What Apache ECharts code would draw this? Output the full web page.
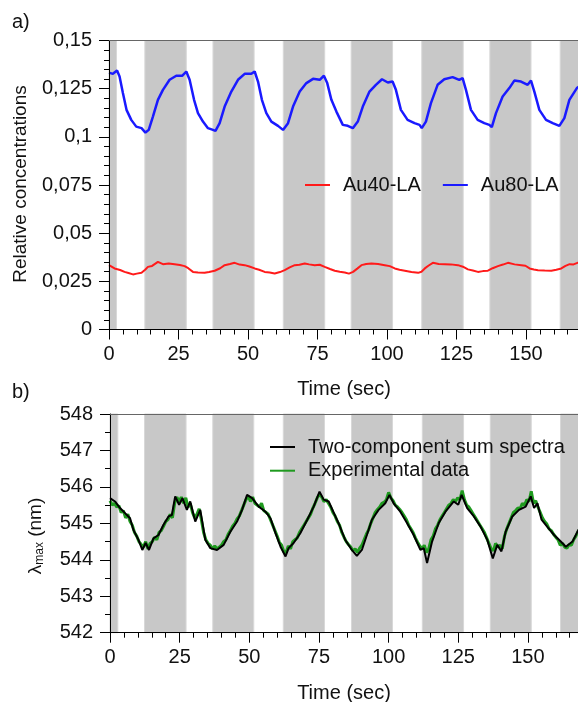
<!DOCTYPE html>
<html><head><meta charset="utf-8">
<script src="https://cdn.jsdelivr.net/npm/echarts@6/dist/echarts.min.js"></script>
<style>html,body{margin:0;padding:0;background:#fff}#c{width:578px;height:702px}</style>
</head><body><div id="c"></div>
<script>
// ---------- DATA ----------
const xTickValues = [0, 25, 50, 75, 100, 125, 150, 175];
const xTickLabels = ['0', '25', '50', '75', '100', '125', '150', '175'];
const yTickValuesA = [0, 0.025, 0.05, 0.075, 0.1, 0.125, 0.15];
const yTickLabelsA = ['0', '0,025', '0,05', '0,075', '0,1', '0,125', '0,15'];
const yTickValuesB = [542, 543, 544, 545, 546, 547, 548];
const yTickLabelsB = ['542', '543', '544', '545', '546', '547', '548'];

// grey (illuminated) intervals, seconds
const bandStartA = [0, 12.9, 37.4, 62.7, 87.1, 112.5, 137.0, 162.3];
const bandEndA   = [2.7, 27.8, 52.2, 77.6, 102.0, 127.4, 151.8, 180];
const bandStartB = [0, 12.4, 36.9, 62.2, 86.7, 112.1, 136.5, 161.7];
const bandEndB   = [2.8, 27.3, 51.6, 77.0, 101.4, 126.9, 151.2, 180];

// panel a) Au80-LA
const au80T = [0,1.4,2.9,3.8,5.0,6.3,8.0,9.8,11.7,13.1,14.3,15.8,17.6,19.4,21.8,24.2,26.3,27.8,29,30.6,32,33.8,35.6,37.4,38.3,39.8,41.6,44,46.4,48.8,51.2,52.4,53.6,55,56.6,58.4,60.8,62.6,64.4,66.2,68.6,71,73.4,75.8,77.3,78.5,80,81.8,84.1,85.9,87.7,89.5,91.3,93.7,96,98.2,100.3,102,103.2,105,107.4,109.9,111.7,112.5,114,115.8,118.2,120.6,123.6,126,127.2,128.4,130.2,132.6,135,136.8,137.7,139.2,141.6,144,145.8,148.2,150.6,151.8,153,154.8,157.2,159.6,162,163.8,165.6,168.3,170];
const au80V = [0.1333,0.1327,0.1344,0.1313,0.1227,0.1140,0.1088,0.1053,0.1045,0.1022,0.1036,0.1105,0.1192,0.1244,0.1296,0.1317,0.1317,0.1339,0.1296,0.1192,0.1123,0.1079,0.1045,0.1036,0.1031,0.1071,0.1157,0.1235,0.1296,0.1327,0.1327,0.1339,0.1287,0.1192,0.1123,0.1079,0.1057,0.1036,0.1071,0.1157,0.1235,0.1279,0.1301,0.1296,0.1317,0.1279,0.1192,0.1131,0.1062,0.1057,0.1045,0.1079,0.1157,0.1235,0.1270,0.1299,0.1282,0.1287,0.1244,0.1140,0.1088,0.1071,0.1062,0.1045,0.1079,0.1175,0.1270,0.1299,0.1310,0.1296,0.1305,0.1244,0.1140,0.1088,0.1071,0.1062,0.1050,0.1123,0.1209,0.1253,0.1292,0.1287,0.1270,0.1292,0.1235,0.1140,0.1088,0.1071,0.1057,0.1097,0.1192,0.1253,0.1270];

// panel a) Au40-LA
const au40T = [0,2,4,5.6,7,8.6,10,11.7,13,14,15.5,17.6,19.4,21.5,23.6,25.5,27.2,28.5,30.2,32,34.4,36,38,40,41.6,43.5,45.2,47,48.8,50.5,52.4,54,56,57.8,59.6,61.5,63.2,65,66.8,68.5,70.4,72,74,75.8,77.6,79.5,81.2,83,84.8,86.3,87.8,89.3,90.8,92.5,94.4,96.8,99.2,101,102.8,104.5,106.4,108.8,111.2,112.4,113.6,115,116.5,118.6,120.8,123,125.5,127.3,129.1,130.9,132.7,134.5,136.3,138,139.9,141.7,143.5,145.9,148.3,149.8,151.3,152.8,154.3,156.7,159.1,160.9,162.7,164.2,165.7,167.1,168.5,170];
const au40V = [0.0334,0.0317,0.0309,0.0299,0.0293,0.0286,0.0290,0.0294,0.0310,0.0325,0.0330,0.0351,0.0339,0.0343,0.0339,0.0335,0.0329,0.0318,0.0299,0.0296,0.0294,0.0298,0.0305,0.0318,0.0334,0.0340,0.0346,0.0337,0.0334,0.0327,0.0317,0.0310,0.0299,0.0296,0.0291,0.0298,0.0308,0.0322,0.0334,0.0336,0.0343,0.0338,0.0334,0.0336,0.0325,0.0314,0.0305,0.0300,0.0296,0.0290,0.0299,0.0316,0.0334,0.0340,0.0343,0.0340,0.0334,0.0329,0.0317,0.0310,0.0305,0.0298,0.0294,0.0300,0.0317,0.0332,0.0346,0.0340,0.0339,0.0338,0.0334,0.0326,0.0312,0.0306,0.0299,0.0303,0.0305,0.0318,0.0329,0.0337,0.0346,0.0338,0.0334,0.0331,0.0317,0.0311,0.0308,0.0306,0.0305,0.0310,0.0317,0.0330,0.0339,0.0338,0.0346,0.0345];

// panel b) two-component sum spectra
const sumT = [0,1.8,3.6,5.4,7.2,8.4,10.2,11.6,12.8,14,15.6,17.4,19.2,21,22.2,23.4,24.8,26,27.6,28.8,30.6,32.4,34.2,36,38.4,40.8,43.2,45.6,47.4,49.2,51,53.4,55.8,57.6,59.4,61.2,63,64.1,65.9,68.3,70.8,73.1,75.2,76.7,78.5,80.9,82,84.4,86.8,88.6,90.4,92.2,94,96.4,98.8,100.3,101.8,104.2,106.6,109,111.4,112.6,113.8,115.6,118,120.4,123.4,125,126.2,128.2,130.6,133,135.4,137.4,139,140.5,142,144.4,146.8,149.2,151,152.2,153.4,154.9,156.9,159.4,161.8,163.6,166,168.1,170];
const sumV = [545.69,545.60,545.42,545.28,545.14,544.82,544.55,544.27,544.46,544.27,544.59,544.68,544.96,545.19,545.23,545.74,545.51,545.69,545.37,545.60,545.05,545.37,544.55,544.32,544.27,544.41,544.77,545.05,545.37,545.78,545.69,545.46,545.32,545.14,544.73,544.36,544.09,544.32,544.46,544.73,545.10,545.46,545.87,545.65,545.60,545.19,545.01,544.55,544.27,544.11,544.27,544.68,545.10,545.37,545.55,545.78,545.55,545.32,545.01,544.68,544.27,544.32,543.91,544.50,545.01,545.32,545.60,545.51,545.78,545.42,545.19,544.91,544.55,544.04,544.41,544.23,544.77,545.19,545.37,545.46,545.74,545.42,545.55,545.10,544.91,544.68,544.50,544.36,544.50,544.82,544.90];

// panel b) experimental data
const expT = [0,0.8,1.6,2.4,3.2,4.0,4.8,5.6,6.4,7.2,8.0,8.8,9.6,10.4,11.2,12.0,12.8,13.6,14.4,15.2,16.0,16.8,17.6,18.4,19.2,20.0,20.8,21.6,22.4,23.2,24.0,24.8,25.6,26.4,27.2,28.0,28.8,29.6,30.4,31.2,32.0,32.8,33.6,34.4,35.2,36.0,36.8,37.6,38.4,39.2,40.0,40.8,41.6,42.4,43.2,44.0,44.8,45.6,46.4,47.2,48.0,48.8,49.6,50.4,51.2,52.0,52.8,53.6,54.4,55.2,56.0,56.8,57.6,58.4,59.2,60.0,60.8,61.6,62.4,63.2,64.0,64.8,65.6,66.4,67.2,68.0,68.8,69.6,70.4,71.2,72.0,72.8,73.6,74.4,75.2,76.0,76.8,77.6,78.4,79.2,80.0,80.8,81.6,82.4,83.2,84.0,84.8,85.6,86.4,87.2,88.0,88.8,89.6,90.4,91.2,92.0,92.8,93.6,94.4,95.2,96.0,96.8,97.6,98.4,99.2,100.0,100.8,101.6,102.4,103.2,104.0,104.8,105.6,106.4,107.2,108.0,108.8,109.6,110.4,111.2,112.0,112.8,113.6,114.4,115.2,116.0,116.8,117.6,118.4,119.2,120.0,120.8,121.6,122.4,123.2,124.0,124.8,125.6,126.4,127.2,128.0,128.8,129.6,130.4,131.2,132.0,132.8,133.6,134.4,135.2,136.0,136.8,137.6,138.4,139.2,140.0,140.8,141.6,142.4,143.2,144.0,144.8,145.6,146.4,147.2,148.0,148.8,149.6,150.4,151.2,152.0,152.8,153.6,154.4,155.2,156.0,156.8,157.6,158.4,159.2,160.0,160.8,161.6,162.4,163.2,164.0,164.8,165.6,166.4,167.2,168.0,168.8,170];
const expV = [545.62,545.50,545.55,545.45,545.48,545.30,545.35,545.15,545.25,545.05,544.95,544.75,544.65,544.50,544.42,544.35,544.50,544.30,544.45,544.50,544.62,544.55,544.75,544.80,544.92,545.05,545.10,545.25,545.15,545.55,545.72,545.60,545.72,545.55,545.70,545.45,545.55,545.30,545.15,545.25,545.40,545.10,544.75,544.55,544.45,544.40,544.30,544.38,544.30,544.35,544.40,544.50,544.55,544.70,544.80,544.92,545.00,545.12,545.20,545.35,545.50,545.65,545.75,545.60,545.72,545.55,545.50,545.45,545.55,545.35,545.30,545.25,545.10,544.95,544.80,544.65,544.48,544.40,544.22,544.20,544.38,544.30,544.50,544.55,544.60,544.75,544.85,544.95,545.05,545.15,545.25,545.42,545.55,545.70,545.80,545.72,545.60,545.65,545.55,545.45,545.30,545.20,545.05,544.95,544.75,544.62,544.50,544.42,544.35,544.25,544.30,544.20,544.32,544.40,544.55,544.70,544.82,545.00,545.15,545.30,545.38,545.45,545.55,545.58,545.65,545.85,545.70,545.62,545.50,545.45,545.38,545.30,545.20,545.10,544.95,544.85,544.75,544.60,544.48,544.38,544.30,544.40,544.20,544.30,544.55,544.65,544.85,544.95,545.10,545.20,545.30,545.40,545.50,545.55,545.65,545.60,545.70,545.65,545.90,545.65,545.50,545.45,545.35,545.25,545.15,545.05,544.95,544.85,544.75,544.60,544.45,544.30,544.25,544.45,544.35,544.40,544.30,544.65,544.85,545.00,545.15,545.30,545.35,545.42,545.40,545.55,545.50,545.65,545.60,545.88,545.55,545.62,545.45,545.30,545.15,545.05,544.98,544.85,544.80,544.70,544.62,544.55,544.40,544.45,544.35,544.32,544.42,544.40,544.55,544.65,544.78,544.85,544.90];

// ---------- CHART ----------
const FONT = "'Liberation Sans', Arial, Helvetica, sans-serif";
const TXT = '#111';
const zip = (a, b) => a.map((v, i) => [v, b[i]]);
const LINE_ICON = 'path://M0,0L25,0L25,2L0,2Z';

function bandSeries(xi, yi, starts, ends, ymin, ymax) {
  return {
    type: 'custom', xAxisIndex: xi, yAxisIndex: yi, z: 1, silent: true,
    data: starts.map((s, i) => [s, ends[i]]),
    encode: { x: [0, 1] },
    renderItem: function (params, api) {
      const p1 = api.coord([api.value(0), ymax]);
      const p2 = api.coord([api.value(1), ymin]);
      return { type: 'rect',
        shape: { x: p1[0], y: p1[1], width: p2[0] - p1[0], height: p2[1] - p1[1] },
        style: { fill: '#c8c8c8', stroke: '#d8d8d8', lineWidth: 1 } };
    }
  };
}

function xAxisBottom(gi) {
  return {
    gridIndex: gi, type: 'value', min: 0, max: 180, interval: 25, z: 10,
    axisLine: { show: true, onZero: false, lineStyle: { color: '#000', width: 1 } },
    axisTick: { show: true, length: 10, lineStyle: { color: '#000' } },
    minorTick: { show: true, splitNumber: 5, length: 5, lineStyle: { color: '#000' } },
    splitLine: { show: false },
    axisLabel: { margin: 15, fontSize: 20, color: TXT, fontFamily: FONT, hideOverlap: false,
      formatter: v => { const i = xTickValues.indexOf(v); return i >= 0 ? xTickLabels[i] : ''; } }
  };
}
function xAxisTop(gi) {
  return {
    gridIndex: gi, type: 'value', min: 0, max: 180, position: 'top', z: 10,
    axisLine: { show: true, onZero: false, lineStyle: { color: '#666', width: 1 } },
    axisTick: { show: false }, axisLabel: { show: false }, splitLine: { show: false }
  };
}
function yAxis(gi, min, max, interval, minorSplit, vals, labels) {
  return {
    gridIndex: gi, type: 'value', min: min, max: max, interval: interval, z: 10,
    axisLine: { show: true, onZero: false, lineStyle: { color: '#000', width: 1 } },
    axisTick: { show: true, length: 10, lineStyle: { color: '#000' } },
    minorTick: { show: true, splitNumber: minorSplit, length: 5, lineStyle: { color: '#000' } },
    splitLine: { show: false },
    axisLabel: { margin: 17, fontSize: 20, color: TXT, fontFamily: FONT,
      formatter: v => { let best = 0; vals.forEach((t, i) => { if (Math.abs(t - v) < Math.abs(vals[best] - v)) best = i; }); return labels[best]; } }
  };
}

const chart = echarts.init(document.getElementById('c'), null, { renderer: 'canvas' });
chart.setOption({
  animation: false,
  backgroundColor: '#fff',
  grid: [
    { left: 109, top: 40.5, width: 500.4, height: 289, containLabel: false, outerBoundsMode: 'none' },
    { left: 110, top: 414, width: 501.5, height: 218.7, containLabel: false, outerBoundsMode: 'none' }
  ],
  xAxis: [xAxisBottom(0), xAxisTop(0), xAxisBottom(1), xAxisTop(1)],
  yAxis: [
    yAxis(0, 0, 0.15, 0.025, 5, yTickValuesA, yTickLabelsA),
    yAxis(1, 542, 548, 1, 2, yTickValuesB, yTickLabelsB)
  ],
  legend: [
    { data: ['Au40-LA', 'Au80-LA'], left: 305, top: 175, padding: 0, orient: 'horizontal', icon: LINE_ICON,
      itemWidth: 25, itemHeight: 2, itemGap: 22, itemStyle: { borderWidth: 0 },
      textStyle: { fontSize: 20, color: TXT, fontFamily: FONT, padding: [0, 0, 0, 8] } },
    { data: ['Two-component sum spectra', 'Experimental data'], left: 270, top: 437, padding: 0, orient: 'vertical', icon: LINE_ICON,
      itemWidth: 25, itemHeight: 2, itemGap: 3.7, itemStyle: { borderWidth: 0 },
      textStyle: { fontSize: 20, color: TXT, fontFamily: FONT, padding: [0, 0, 0, 8] } }
  ],
  graphic: [
    { type: 'text', left: 12, top: 12, style: { text: 'a)', fontSize: 20, fill: TXT, fontFamily: FONT } },
    { type: 'text', left: 12, top: 382, style: { text: 'b)', fontSize: 20, fill: TXT, fontFamily: FONT } },
    { type: 'text', x: 344, y: 379, style: { text: 'Time (sec)', fontSize: 20, fill: TXT, fontFamily: FONT, align: 'center', verticalAlign: 'top' } },
    { type: 'text', x: 344, y: 683, style: { text: 'Time (sec)', fontSize: 20, fill: TXT, fontFamily: FONT, align: 'center', verticalAlign: 'top' } },
    { type: 'text', x: 21, y: 184, rotation: Math.PI / 2,
      style: { text: 'Relative concentrations', fontSize: 19, fill: TXT, fontFamily: FONT, align: 'center', verticalAlign: 'middle' } },
    { type: 'text', x: 36, y: 536, rotation: Math.PI / 2,
      style: { text: '{a|λ}{b|max}{a| (nm)}', fill: TXT, fontFamily: FONT, align: 'center', verticalAlign: 'middle',
        rich: { a: { fontSize: 19, fontFamily: FONT, fill: TXT, verticalAlign: 'middle' },
                b: { fontSize: 12, fontFamily: FONT, fill: TXT, verticalAlign: 'bottom', padding: [8, 0, 0, 0] } } } }
  ],
  series: [
    bandSeries(0, 0, bandStartA, bandEndA, 0, 0.15),
    bandSeries(2, 1, bandStartB, bandEndB, 542, 548),
    { name: 'Au40-LA', type: 'line', xAxisIndex: 0, yAxisIndex: 0, z: 3, symbol: 'none',
      data: zip(au40T, au40V), color: '#ff1a1a', lineStyle: { width: 2, color: '#ff1a1a' } },
    { name: 'Au80-LA', type: 'line', xAxisIndex: 0, yAxisIndex: 0, z: 3, symbol: 'none',
      data: zip(au80T, au80V), color: '#1a1aff', lineStyle: { width: 2.5, color: '#1a1aff' } },
    { name: 'Experimental data', type: 'line', xAxisIndex: 2, yAxisIndex: 1, z: 3, symbol: 'none',
      data: zip(expT, expV), color: '#1f9a1f', lineStyle: { width: 3, color: '#1f9a1f' } },
    { name: 'Two-component sum spectra', type: 'line', xAxisIndex: 2, yAxisIndex: 1, z: 4, symbol: 'none',
      data: zip(sumT, sumV), color: '#000', lineStyle: { width: 2, color: '#000' } }
  ]
});
</script></body></html>
